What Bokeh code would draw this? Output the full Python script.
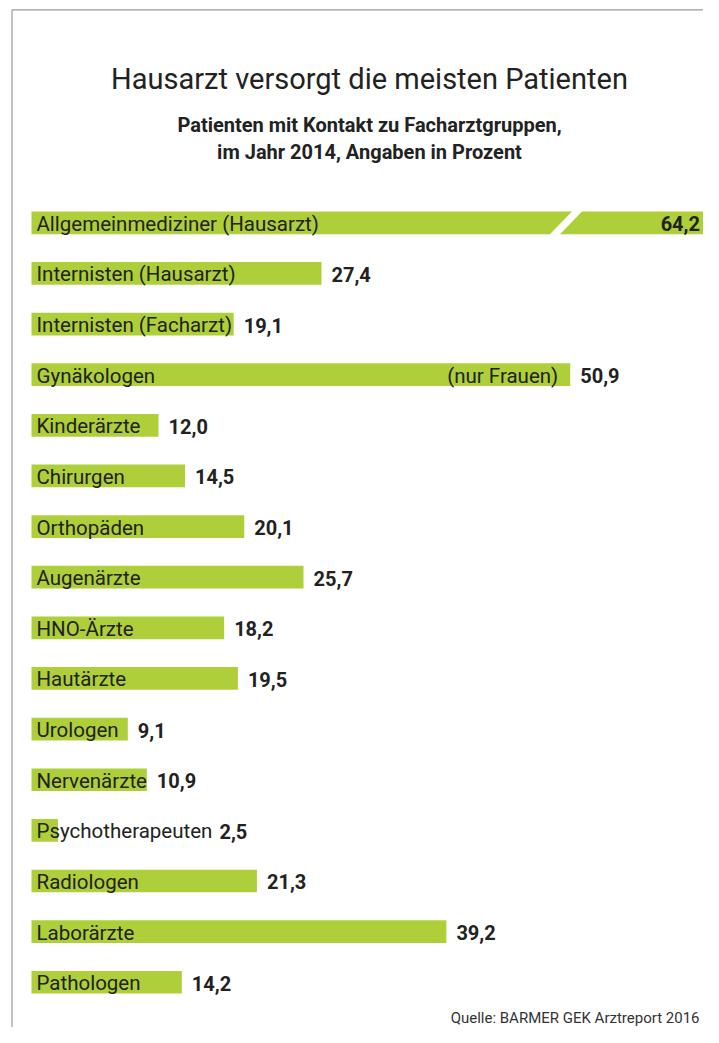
from bokeh.plotting import figure
from bokeh.models import Range1d, ColumnDataSource
from bokeh.core.properties import value
from bokeh.embed import file_html
from bokeh.resources import INLINE

# ---- data ----
categories = ["Allgemeinmediziner (Hausarzt)", "Internisten (Hausarzt)", "Internisten (Facharzt)",
              "Gynäkologen", "Kinderärzte", "Chirurgen", "Orthopäden", "Augenärzte", "HNO-Ärzte",
              "Hautärzte", "Urologen", "Nervenärzte", "Psychotherapeuten", "Radiologen",
              "Laborärzte", "Pathologen"]
values = [64.2, 27.4, 19.1, 50.9, 12.0, 14.5, 20.1, 25.7, 18.2, 19.5, 9.1, 10.9, 2.5, 21.3, 39.2, 14.2]
value_labels = ["64,2", "27,4", "19,1", "50,9", "12,0", "14,5", "20,1", "25,7", "18,2", "19,5",
                "9,1", "10,9", "2,5", "21,3", "39,2", "14,2"]
notes = {"Gynäkologen": "(nur Frauen)"}
title = "Hausarzt versorgt die meisten Patienten"
subtitle = ["Patienten mit Kontakt zu Facharztgruppen,", "im Jahr 2014, Angaben in Prozent"]
source = "Quelle: BARMER GEK Arztreport 2016"

# ---- layout / style ----
W, H = 703, 1027
PPU = 10.584          # pixels per percent
X0 = 31               # pixel of value 0
Y_FIRST = 222.3       # first bar center (px)
STEP = 50.63
BAR_H = 22.7
FONT = "Roboto"
LBL_SIZE = 20.5
GREEN = "#aecf39"
DARK = "#222222"
BREAK_AT = 50.45      # position of the axis-break stripe on the first bar

def dx(px):
    return px / PPU

ADV = {'P': 1263, 's': 1032, 'y': 950, 'c': 1048, 'h': 1104, 'o': 1141, 't': 654, 'e': 1058,
       'r': 692, 'a': 1087, 'p': 1122, 'u': 1125, 'n': 1125, 'N': 1423, 'v': 950, 'ä': 1087,
       'z': 992, 'U': 1301, 'l': 486, 'g': 1122, 'i': 486, 'K': 1267, 'd': 1128, 'R': 1261,
       'L': 1079, 'b': 1122, 'ö': 1141, ' ': 508, 'I': 561, 'F': 1112, '(': 684, ')': 696,
       'H': 1423, 'A': 1315, 'C': 1227, 'O': 1387, 'G': 1357, 'Ä': 1315, '-': 553,
       'm': 1760, 'k': 1013, 'f': 709}

def est_width(s, size):
    return sum(ADV.get(ch, 1050) for ch in s) / 2048 * size

p = figure(width=W, height=H, output_backend="svg", toolbar_location=None,
           x_range=Range1d(-X0 / PPU, (W - X0) / PPU), y_range=Range1d(H, 0),
           min_border=0, x_axis_location=None, y_axis_location=None)
p.grid.visible = False
p.outline_line_color = None
p.background_fill_color = "white"
p.border_fill_color = "white"

ys = [Y_FIRST + i * STEP for i in range(len(categories))]
src = ColumnDataSource(dict(cat=categories, val=values, y=ys))

# bars
p.hbar(y="y", left=0, right="val", height=BAR_H, source=src, fill_color=GREEN, line_color=None)

# axis-break stripe on the first bar
yb = ys[0]
hh = BAR_H / 2 + 0.5
p.patch([BREAK_AT + dx(-16), BREAK_AT + dx(-6), BREAK_AT + dx(17), BREAK_AT + dx(7)],
        [yb + hh, yb + hh, yb - hh, yb - hh], fill_color="white", line_color=None)

# category labels inside bars
p.text(x=dx(5), y=[y + 1 for y in ys], text=categories, text_font=value(FONT),
       text_font_size=f"{LBL_SIZE}px", text_color=DARK, text_baseline="middle")

# notes
for cat, note in notes.items():
    i = categories.index(cat)
    p.text(x=[values[i] - dx(12)], y=[ys[i] + 1], text=[note], text_font=value(FONT),
           text_font_size=f"{LBL_SIZE}px", text_color=DARK, text_align="right",
           text_baseline="middle")

# value labels
vx, vy, vt, ix, iy, it = [], [], [], [], [], []
for i, (c, v, lab) in enumerate(zip(categories, values, value_labels)):
    if i == 0:
        ix.append(v - dx(11)); iy.append(ys[i] + 1); it.append(lab)
    else:
        end_px = max(v * PPU, 5 + est_width(c, LBL_SIZE))
        vx.append(dx(end_px + 10)); vy.append(ys[i] + 1); vt.append(lab)
p.text(x=vx, y=vy, text=vt, text_font=value(FONT), text_font_size="20px",
       text_font_style="bold", text_color=DARK, text_baseline="middle")
p.text(x=ix, y=iy, text=it, text_font=value(FONT), text_font_size="20px",
       text_font_style="bold", text_color=DARK, text_align="right", text_baseline="middle")

# titles
cx = dx(369 - X0)
p.text(x=[cx], y=[78], text=[title], text_font=value(FONT), text_font_size="29px",
       text_color=DARK, text_align="center", text_baseline="middle")
p.text(x=[cx, cx], y=[124, 151.5], text=subtitle, text_font=value(FONT),
       text_font_size="20px", text_font_style="bold", text_color=DARK,
       text_align="center", text_baseline="middle")

# source
p.text(x=[dx(699 - X0)], y=[1017], text=[source], text_font=value(FONT),
       text_font_size="15px", text_color="#333333", text_align="right",
       text_baseline="middle")

# frame lines (top and left)
p.segment(x0=[dx(11.5 - X0), dx(11.5 - X0)], y0=[9.3, 9.3], x1=[dx(W - X0), dx(11.5 - X0)],
          y1=[9.3, H], line_color="#9a9a9a", line_width=1.2)

open("out.html", "w").write(file_html(p, INLINE))
